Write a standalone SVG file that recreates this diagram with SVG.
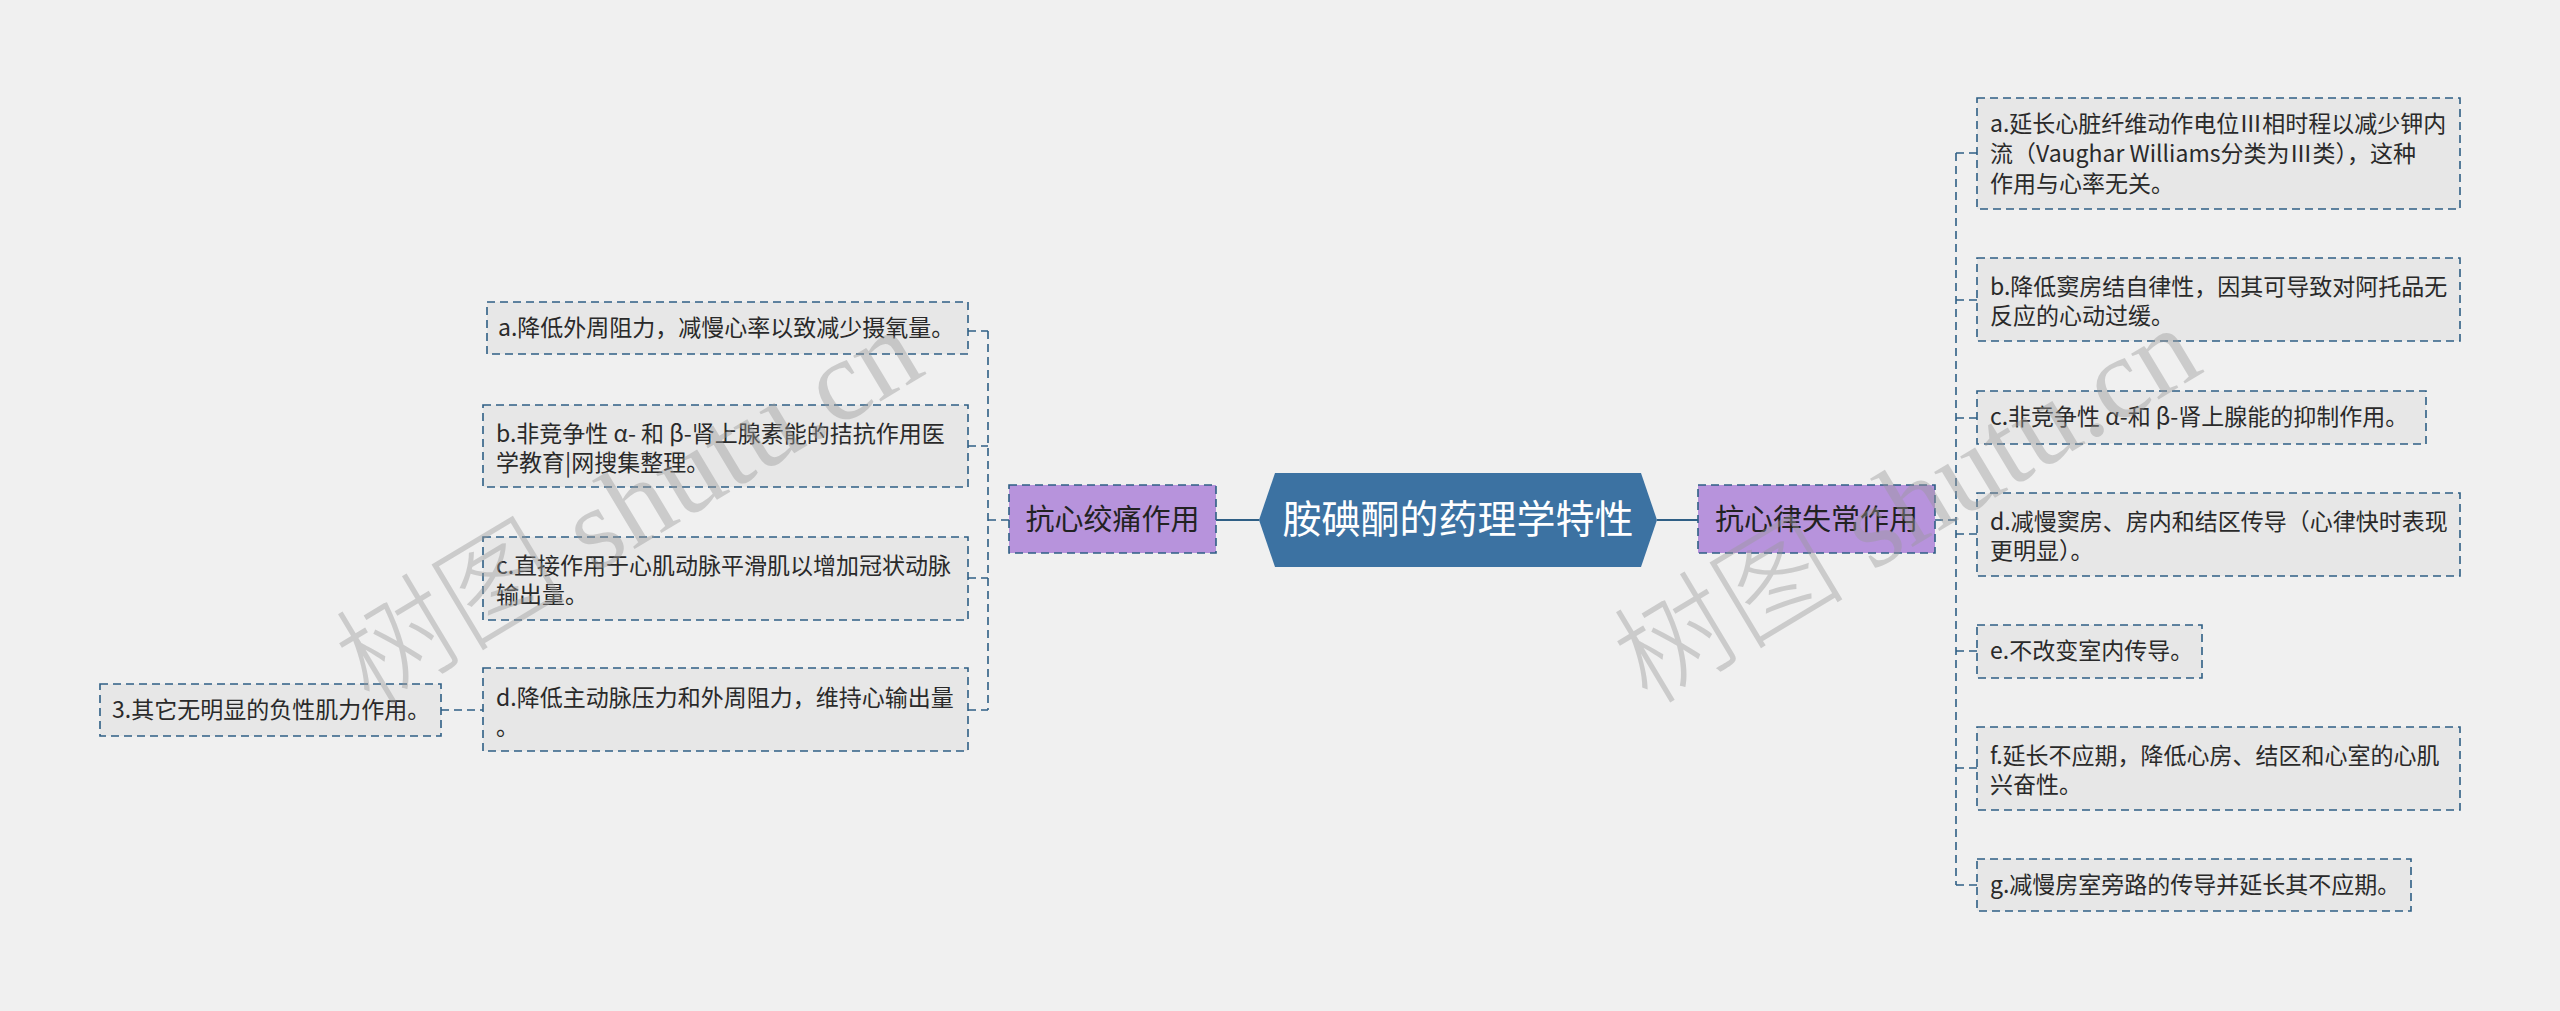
<svg xmlns="http://www.w3.org/2000/svg" width="2560" height="1011" viewBox="0 0 2560 1011">
<style>
text{font-family:"Noto Sans CJK SC","Noto Sans",sans-serif;}
.box{fill:#e7e7e7;stroke:#2f5f85;stroke-width:1.6;stroke-dasharray:8 5;}
.t{font-size:23px;fill:#2a2a2a;}
.sub{fill:#b793dc;stroke:#2f5f85;stroke-width:1.6;stroke-dasharray:8 5;}
.st{font-size:29px;fill:#222;}
.ln{fill:none;stroke:#2f5f85;stroke-width:1.6;stroke-dasharray:8 5;}
.sl{fill:none;stroke:#2f5f85;stroke-width:2.2;}
.wm{font-size:116px;font-weight:300;fill:#9a9a9a;opacity:0.42;font-family:"Liberation Serif","Noto Sans CJK SC",serif;}
</style>
<rect width="2560" height="1011" fill="#f0f0f0"/>
<g id="connectors">
<line class="sl" x1="1216" y1="520" x2="1259" y2="520"/>
<line class="sl" x1="1657" y1="520" x2="1698" y2="520"/>
<path class="ln" d="M1009 520H988M988 331V710M968 331H988M968 446H988M968 578H988M968 710H988"/>
<line class="ln" x1="441" y1="710" x2="483" y2="710"/>
<path class="ln" d="M1935 520H1956M1956 153V885M1956 153H1977M1956 300H1977M1956 418H1977M1956 534H1977M1956 651H1977M1956 768H1977M1956 885H1977"/>
</g>
<g id="center">
<polygon points="1259,520 1275,473 1641,473 1657,520 1641,567 1275,567" fill="#3c72a2"/>
<text x="1458" y="533" font-size="39" fill="#ffffff" text-anchor="middle">胺碘酮的药理学特性</text>
</g>
<g id="n-left">
<rect class="sub" x="1009" y="485" width="207" height="68"/>
<text class="st" x="1112.5" y="530" text-anchor="middle">抗心绞痛作用</text>
</g>
<g id="n-right">
<rect class="sub" x="1698" y="485" width="237" height="68"/>
<text class="st" x="1816.5" y="530" text-anchor="middle">抗心律失常作用</text>
</g>
<g id="l-a">
<rect class="box" x="487" y="302" width="481" height="52"/>
<text class="t" x="498" y="336">a.降低外周阻力，减慢心率以致减少摄氧量。</text>
</g>
<g id="l-b">
<rect class="box" x="483" y="405" width="485" height="82"/>
<text class="t" x="496" y="442">b.非竞争性 α- 和 β-肾上腺素能的拮抗作用医</text>
<text class="t" x="496" y="471">学教育|网搜集整理。</text>
</g>
<g id="l-c">
<rect class="box" x="483" y="537" width="485" height="83"/>
<text class="t" x="496" y="574">c.直接作用于心肌动脉平滑肌以增加冠状动脉</text>
<text class="t" x="496" y="603">输出量。</text>
</g>
<g id="l-d">
<rect class="box" x="483" y="668" width="485" height="83"/>
<text class="t" x="496" y="706">d.降低主动脉压力和外周阻力，维持心输出量</text>
<text class="t" x="496" y="735">。</text>
</g>
<g id="l-3">
<rect class="box" x="100" y="684" width="341" height="52"/>
<text class="t" x="112" y="718">3.其它无明显的负性肌力作用。</text>
</g>
<g id="r-a">
<rect class="box" x="1977" y="98" width="483" height="111"/>
<text class="t" x="1990" y="132">a.延长心脏纤维动作电位Ⅲ相时程以减少钾内</text>
<text class="t" x="1990" y="162">流（Vaughar Williams分类为Ⅲ类），这种</text>
<text class="t" x="1990" y="192">作用与心率无关。</text>
</g>
<g id="r-b">
<rect class="box" x="1977" y="258" width="483" height="83"/>
<text class="t" x="1990" y="295">b.降低窦房结自律性，因其可导致对阿托品无</text>
<text class="t" x="1990" y="324">反应的心动过缓。</text>
</g>
<g id="r-c">
<rect class="box" x="1977" y="391" width="449" height="53"/>
<text class="t" x="1990" y="425">c.非竞争性 α-和 β-肾上腺能的抑制作用。</text>
</g>
<g id="r-d">
<rect class="box" x="1977" y="493" width="483" height="83"/>
<text class="t" x="1990" y="530">d.减慢窦房、房内和结区传导（心律快时表现</text>
<text class="t" x="1990" y="559">更明显）。</text>
</g>
<g id="r-e">
<rect class="box" x="1977" y="625" width="225" height="53"/>
<text class="t" x="1990" y="659">e.不改变室内传导。</text>
</g>
<g id="r-f">
<rect class="box" x="1977" y="727" width="483" height="83"/>
<text class="t" x="1990" y="764">f.延长不应期，降低心房、结区和心室的心肌</text>
<text class="t" x="1990" y="793">兴奋性。</text>
</g>
<g id="r-g">
<rect class="box" x="1977" y="859" width="434" height="52"/>
<text class="t" x="1990" y="893">g.减慢房室旁路的传导并延长其不应期。</text>
</g>
<g id="watermarks">
<text class="wm" transform="translate(370,708) rotate(-31)">树图 shutu.cn</text>
<text class="wm" transform="translate(1648,706) rotate(-31)">树图 shutu.cn</text>
</g>
</svg>
